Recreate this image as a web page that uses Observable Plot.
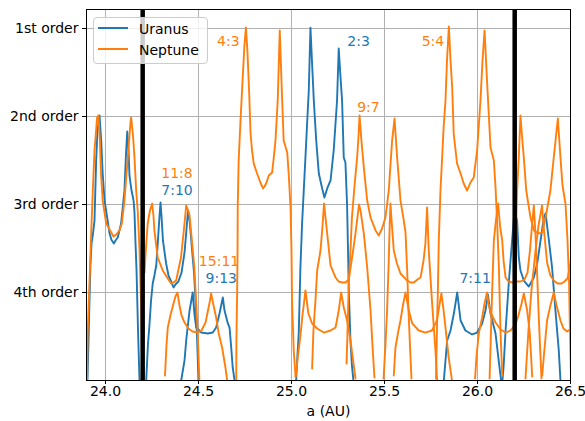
<!DOCTYPE html>
<html><head><meta charset="utf-8">
<script src="https://cdn.jsdelivr.net/npm/d3@7"></script>
<script src="https://cdn.jsdelivr.net/npm/@observablehq/plot@0.6"></script>
<style>
body{margin:0;background:#fff;font-family:"DejaVu Sans",sans-serif;}
#wrap{position:relative;width:585px;height:421px;}
#legend{position:absolute;left:93px;top:17px;width:113px;height:45px;border:1px solid #cccccc;border-radius:4px;background:rgba(255,255,255,0.8);font-size:14px;}
.sw{position:absolute;left:4px;width:30px;height:2px;}
.lt{position:absolute;left:45px;line-height:16px;color:#000;}
</style></head>
<body><div id="wrap"></div>
<script>
// ---- data (a in AU, resonance "order" strength on y) ----
const xTicks = [24.0, 24.5, 25.0, 25.5, 26.0, 26.5];
const yTicks = [1, 2, 3, 4];
const yTickLabels = ["1st order", "2nd order", "3rd order", "4th order"];
const blackLines = [24.2, 26.2];
const legendNames = ["Uranus", "Neptune"];
const seriesColors = ["#1f77b4", "#ff7f0e"];

const labelText   = ["4:3", "2:3", "5:4", "9:7", "11:8", "7:10", "15:11", "9:13", "7:11"];
const labelA      = [24.60, 25.30, 25.70, 25.353, 24.30, 24.30, 24.502, 24.538, 25.903];
const labelO      = [1.144, 1.144, 1.144, 1.901, 2.644, 2.841, 3.648, 3.844, 3.837];
const labelPlanet = ["Neptune", "Uranus", "Neptune", "Neptune", "Neptune", "Uranus", "Neptune", "Uranus", "Uranus"];

const uranus_5_7 = [[23.903,5.0],[23.909,4.545],[23.914,4.091],[23.919,3.693],[23.925,3.443],[23.933,3.33],[23.941,3.182],[23.950,2.5],[23.957,2.159],[23.968,1.989],[23.977,2.273],[23.985,2.648],[23.995,2.955],[24.005,3.09],[24.022,3.33],[24.032,3.40],[24.045,3.443],[24.054,3.409],[24.066,3.375],[24.084,3.216],[24.094,3.011],[24.102,2.841],[24.110,2.443],[24.117,2.17],[24.124,2.386],[24.129,2.67],[24.140,2.841],[24.151,2.955],[24.156,3.09],[24.161,3.409],[24.167,3.75],[24.175,4.432],[24.183,5.0]];
const uranus_7_10 = [[24.219,5.0],[24.228,4.602],[24.237,4.352],[24.245,4.091],[24.254,3.898],[24.263,3.807],[24.273,3.693],[24.282,3.409],[24.290,3.148],[24.296,2.977],[24.301,3.125],[24.309,3.409],[24.326,3.67],[24.339,3.807],[24.353,3.875],[24.366,3.943],[24.376,3.909],[24.392,3.875],[24.409,3.773],[24.425,3.545],[24.435,3.295],[24.444,3.068],[24.452,3.182],[24.460,3.375],[24.468,3.58],[24.476,3.773],[24.484,4.091],[24.492,4.489],[24.500,5.0]];
const uranus_9_13 = [[24.407,5.0],[24.425,4.773],[24.434,4.545],[24.452,4.205],[24.469,4.0],[24.478,4.239],[24.488,4.398],[24.515,4.455],[24.550,4.466],[24.577,4.455],[24.595,4.398],[24.613,4.239],[24.631,4.057],[24.640,4.205],[24.658,4.352],[24.667,4.398],[24.676,4.625],[24.684,4.852],[24.694,5.0]];
const uranus_2_3 = [[25.025,5.0],[25.032,4.716],[25.039,4.466],[25.048,3.716],[25.057,3.216],[25.066,2.841],[25.075,2.466],[25.084,2.08],[25.093,1.705],[25.102,0.99],[25.110,1.364],[25.120,1.818],[25.133,2.273],[25.147,2.648],[25.165,2.818],[25.177,2.92],[25.192,2.818],[25.210,2.727],[25.227,2.386],[25.245,1.818],[25.254,1.227],[25.263,1.534],[25.272,1.818],[25.281,2.466],[25.290,2.523],[25.299,3.011],[25.304,3.523],[25.308,3.977],[25.317,4.545],[25.325,4.83],[25.333,5.0]];
const uranus_7_11 = [[25.819,5.0],[25.837,4.545],[25.855,4.432],[25.873,4.239],[25.891,4.0],[25.909,4.318],[25.935,4.432],[25.971,4.477],[25.998,4.455],[26.025,4.352],[26.043,4.205],[26.056,4.023],[26.070,4.239],[26.097,4.466],[26.114,4.773],[26.127,5.0]];
const uranus_5_8 = [[26.134,5.0],[26.140,4.852],[26.151,4.432],[26.168,3.898],[26.186,3.409],[26.199,3.068],[26.213,3.182],[26.222,3.602],[26.231,3.75],[26.249,3.864],[26.276,3.932],[26.303,3.83],[26.321,3.67],[26.339,3.409],[26.356,3.159],[26.366,3.1],[26.384,3.409],[26.401,3.716],[26.419,4.205],[26.437,4.659],[26.446,5.0]];

const neptune_7_5 = [[23.901,5.0],[23.904,4.466],[23.914,3.898],[23.923,3.33],[23.932,2.841],[23.941,2.386],[23.955,2.011],[23.962,1.989],[23.970,2.273],[23.976,2.648],[23.985,2.955],[24.004,3.216],[24.031,3.318],[24.043,3.364],[24.058,3.341],[24.075,3.295],[24.088,3.216],[24.102,2.955],[24.120,2.466],[24.134,2.08],[24.138,2.011],[24.148,2.216],[24.156,2.466],[24.165,2.841],[24.174,3.091],[24.183,3.523],[24.191,4.091],[24.196,4.659],[24.202,5.0]];
const neptune_11_8 = [[24.210,3.773],[24.215,3.58],[24.227,3.216],[24.239,3.068],[24.251,2.989],[24.258,3.125],[24.263,3.295],[24.281,3.602],[24.308,3.75],[24.335,3.841],[24.353,3.898],[24.366,3.886],[24.380,3.864],[24.406,3.602],[24.425,3.216],[24.434,3.011],[24.444,3.068],[24.452,3.125],[24.461,3.33],[24.478,3.716],[24.487,4.091],[24.496,4.466],[24.505,5.0]];
const neptune_15_11 = [[24.320,4.943],[24.328,4.602],[24.335,4.398],[24.349,4.261],[24.363,4.148],[24.376,4.045],[24.387,4.0],[24.398,4.148],[24.409,4.261],[24.425,4.341],[24.446,4.409],[24.468,4.443],[24.495,4.455],[24.516,4.432],[24.538,4.341],[24.551,4.205],[24.562,4.091],[24.568,4.011],[24.581,4.148],[24.595,4.284],[24.609,4.466],[24.627,4.625],[24.645,4.852],[24.654,5.0]];
const neptune_4_3 = [[24.703,5.0],[24.704,4.545],[24.708,3.977],[24.710,3.523],[24.711,3.034],[24.716,2.5],[24.726,2.045],[24.737,1.591],[24.747,1.193],[24.755,0.989],[24.763,1.25],[24.772,1.705],[24.780,2.193],[24.788,2.386],[24.797,2.534],[24.815,2.648],[24.833,2.75],[24.847,2.818],[24.855,2.795],[24.866,2.75],[24.878,2.67],[24.896,2.636],[24.906,2.443],[24.914,2.273],[24.926,1.818],[24.937,1.023],[24.950,1.818],[24.958,2.273],[24.977,2.409],[24.985,2.648],[24.995,3.034],[25.000,3.523],[25.003,4.091],[25.012,4.659],[25.022,4.955]];
const neptune_17_13 = [[25.022,4.955],[25.032,4.773],[25.048,4.489],[25.059,4.261],[25.067,4.125],[25.075,3.977],[25.091,4.239],[25.111,4.352],[25.138,4.409],[25.174,4.455],[25.210,4.432],[25.237,4.398],[25.254,4.205],[25.267,4.0],[25.281,4.17],[25.299,4.318],[25.317,4.545],[25.335,4.83],[25.344,4.977]];
const neptune_13_10 = [[25.111,4.864],[25.118,4.432],[25.129,4.091],[25.138,3.75],[25.156,3.523],[25.167,3.239],[25.175,2.989],[25.192,3.33],[25.210,3.693],[25.237,3.83],[25.253,3.875],[25.273,3.886],[25.290,3.886],[25.308,3.852],[25.326,3.602],[25.344,3.33],[25.363,3.0],[25.371,3.068],[25.389,3.33],[25.407,3.716],[25.425,4.205],[25.437,4.659],[25.446,4.966]];
const neptune_9_7 = [[25.296,4.807],[25.301,4.466],[25.308,3.898],[25.317,3.523],[25.325,3.148],[25.339,2.784],[25.353,2.466],[25.360,2.239],[25.366,1.989],[25.376,2.273],[25.389,2.58],[25.407,2.955],[25.425,3.148],[25.452,3.295],[25.469,3.352],[25.487,3.273],[25.505,3.148],[25.523,2.841],[25.541,2.273],[25.554,2.023],[25.568,2.466],[25.586,2.955],[25.602,3.159],[25.613,3.318],[25.622,3.75],[25.629,4.205],[25.637,4.602],[25.645,4.977]];
const neptune_14_11 = [[25.495,4.977],[25.505,4.602],[25.514,4.205],[25.523,3.636],[25.528,3.239],[25.532,2.989],[25.540,3.239],[25.550,3.523],[25.567,3.67],[25.586,3.784],[25.622,3.864],[25.640,3.886],[25.658,3.886],[25.677,3.852],[25.694,3.83],[25.710,3.636],[25.720,3.443],[25.729,3.034],[25.738,3.523],[25.755,4.091],[25.774,4.659],[25.783,5.0]];
const neptune_19_15 = [[25.550,4.943],[25.559,4.625],[25.575,4.432],[25.586,4.318],[25.599,4.148],[25.613,4.0],[25.631,4.205],[25.649,4.352],[25.684,4.432],[25.720,4.455],[25.755,4.432],[25.782,4.318],[25.795,4.148],[25.806,4.011],[25.818,4.205],[25.828,4.398],[25.845,4.739],[25.863,5.0]];
const neptune_5_4 = [[25.777,4.977],[25.782,4.432],[25.787,3.977],[25.792,3.409],[25.801,2.841],[25.810,2.466],[25.817,2.159],[25.828,1.818],[25.836,1.364],[25.846,0.977],[25.855,1.364],[25.864,1.67],[25.872,2.193],[25.890,2.534],[25.909,2.648],[25.926,2.761],[25.944,2.841],[25.962,2.75],[25.980,2.693],[25.998,2.386],[26.016,1.818],[26.027,1.364],[26.038,1.023],[26.052,1.625],[26.070,2.352],[26.088,2.5],[26.097,2.807],[26.106,3.216],[26.115,3.716],[26.124,4.466],[26.133,4.943]];
const neptune_21_17 = [[25.987,4.977],[25.995,4.716],[26.007,4.466],[26.025,4.284],[26.038,4.125],[26.051,4.0],[26.059,4.125],[26.070,4.227],[26.097,4.341],[26.124,4.42],[26.151,4.455],[26.177,4.432],[26.204,4.364],[26.220,4.261],[26.237,4.125],[26.249,4.011],[26.267,4.205],[26.280,4.432],[26.288,4.716],[26.294,4.955]];
const neptune_16_13 = [[26.065,4.977],[26.079,3.977],[26.088,3.409],[26.099,3.182],[26.111,2.989],[26.121,3.239],[26.133,3.409],[26.140,3.636],[26.151,3.83],[26.167,3.875],[26.188,3.886],[26.210,3.875],[26.231,3.875],[26.253,3.852],[26.269,3.773],[26.282,3.523],[26.293,3.239],[26.303,3.011],[26.312,3.352],[26.320,3.75],[26.328,4.205],[26.336,4.602],[26.344,4.977]];
const neptune_11_9 = [[26.202,4.977],[26.204,4.432],[26.206,3.977],[26.208,3.216],[26.213,2.841],[26.222,2.466],[26.231,1.989],[26.239,2.216],[26.249,2.466],[26.262,2.841],[26.285,3.148],[26.303,3.295],[26.330,3.33],[26.348,3.318],[26.366,3.148],[26.392,2.841],[26.410,2.466],[26.432,2.023],[26.446,2.466],[26.457,2.784],[26.473,2.989],[26.484,3.409],[26.492,3.864],[26.497,4.432],[26.503,4.977]];
const neptune_17_14 = [[26.258,4.977],[26.274,4.432],[26.290,3.977],[26.312,3.523],[26.328,3.239],[26.347,3.011],[26.355,3.239],[26.374,3.659],[26.392,3.807],[26.410,3.864],[26.430,3.898],[26.452,3.898],[26.468,3.875],[26.484,3.841],[26.495,3.727],[26.505,3.58]];
const neptune_23_19 = [[26.348,4.943],[26.356,4.739],[26.374,4.318],[26.392,4.148],[26.410,4.0],[26.425,4.148],[26.446,4.318],[26.462,4.409],[26.482,4.443],[26.505,4.409]];

const uranusSegments = {"5:7": uranus_5_7, "7:10": uranus_7_10, "9:13": uranus_9_13, "2:3": uranus_2_3, "7:11": uranus_7_11, "5:8": uranus_5_8};
const neptuneSegments = {"7:5": neptune_7_5, "11:8": neptune_11_8, "15:11": neptune_15_11, "4:3": neptune_4_3, "17:13": neptune_17_13, "13:10": neptune_13_10, "9:7": neptune_9_7, "14:11": neptune_14_11, "19:15": neptune_19_15, "5:4": neptune_5_4, "21:17": neptune_21_17, "16:13": neptune_16_13, "11:9": neptune_11_9, "17:14": neptune_17_14, "23:19": neptune_23_19};

// ---- build rows ----
const toRows = segs => Object.entries(segs).flatMap(([id, pts]) => pts.map(([a, o]) => ({id, a, o})));
const uRows = toRows(uranusSegments);
const nRows = toRows(neptuneSegments);
const labels = labelText.map((t, i) => ({t, a: labelA[i], o: labelO[i], p: labelPlanet[i]}));
const colorOf = p => seriesColors[legendNames.indexOf(p)];

const chart = Plot.plot({
  width: 585, height: 421,
  marginLeft: 86, marginRight: 15, marginTop: 9, marginBottom: 41,
  style: {fontFamily: "DejaVu Sans, sans-serif", fontSize: "14px", color: "#000", background: "#fff"},
  x: {domain: [23.898, 26.5]},
  y: {domain: [0.784, 5], reverse: true},
  marks: [
    Plot.gridX(xTicks, {stroke: "#b0b0b0", strokeOpacity: 1, strokeWidth: 1}),
    Plot.gridY(yTicks, {stroke: "#b0b0b0", strokeOpacity: 1, strokeWidth: 1}),
    Plot.line(uRows, {x: "a", y: "o", z: "id", stroke: seriesColors[0], strokeWidth: 1.9, clip: true}),
    Plot.line(nRows, {x: "a", y: "o", z: "id", stroke: seriesColors[1], strokeWidth: 1.9, clip: true}),
    Plot.ruleX(blackLines, {stroke: "#000", strokeWidth: 4.5}),
    Plot.text(labels.filter(d => d.p === "Uranus"), {x: "a", y: "o", text: "t", fill: colorOf("Uranus"), textAnchor: "start", lineAnchor: "middle", fontSize: 14}),
    Plot.text(labels.filter(d => d.p === "Neptune"), {x: "a", y: "o", text: "t", fill: colorOf("Neptune"), textAnchor: "start", lineAnchor: "middle", fontSize: 14}),
    Plot.frame({stroke: "#000", strokeWidth: 1}),
    Plot.axisX(xTicks, {tickSize: 4, tickPadding: 2, tickFormat: d3.format(".1f"), label: null, fontSize: 14}),
    Plot.axisY(yTicks, {tickSize: 4, tickPadding: 4, tickFormat: d => yTickLabels[yTicks.indexOf(d)], label: null, fontSize: 14}),
    Plot.text(["a (AU)"], {frameAnchor: "bottom", dy: 31, lineAnchor: "middle", fontSize: 14})
  ]
});
const wrap = document.getElementById("wrap");
wrap.appendChild(chart);

// legend (inside plot area, upper left)
const lg = document.createElement("div");
lg.id = "legend";
legendNames.forEach((name, i) => {
  const sw = document.createElement("div");
  sw.className = "sw";
  sw.style.background = seriesColors[i];
  sw.style.top = (9 + i * 21) + "px";
  const lt = document.createElement("div");
  lt.className = "lt";
  lt.style.top = (3 + i * 21) + "px";
  lt.textContent = name;
  lg.appendChild(sw);
  lg.appendChild(lt);
});
wrap.appendChild(lg);
</script>
</body></html>
